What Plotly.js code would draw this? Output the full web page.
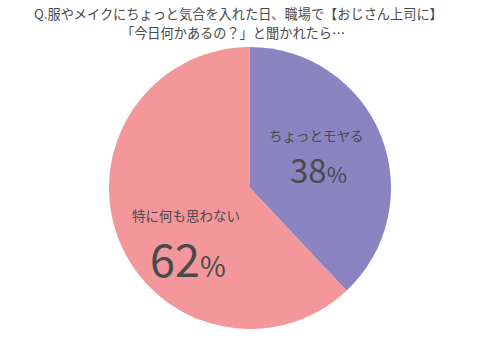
<!DOCTYPE html>
<html>
<head>
<meta charset="utf-8">
<script src="https://cdn.plot.ly/plotly-3.0.1.min.js"></script>
<style>html,body{margin:0;padding:0;background:#fff;}#chart{width:500px;height:355px;}</style>
</head>
<body>
<div id="chart"></div>
<script>
const titleLines = ["Q.服やメイクにちょっと気合を入れた日、職場で【おじさん上司に】", "「今日何かあるの？」と聞かれたら…"];
const labels = ["ちょっとモヤる", "特に何も思わない"];
const values = [38, 62];
const colors = ["#8a84c1", "#f3979b"];

const font = "Noto Sans CJK JP, Noto Sans, sans-serif";
const textColor = "#4a4a4a";

const M = {l: 0, r: 0, t: 47, b: 26};
const plotH = 355 - M.t - M.b;
const py = v => 1 - (v - M.t) / plotH;
const px = v => v / 500;

const labelPos = [
  {x: 316, y: 135, ny: 169, big: 33, small: 22},
  {x: 186, y: 215, ny: 257, big: 45, small: 28}
];
const titlePos = [{x: 238, y: 14}, {x: 233, y: 32}];

const annotations = [];
titleLines.forEach((t, i) => {
  annotations.push({
    text: t, x: px(titlePos[i].x), y: py(titlePos[i].y), xref: "paper", yref: "paper",
    showarrow: false, xanchor: "center", yanchor: "middle", borderpad: 0,
    font: {family: font, size: 13.2, color: textColor}
  });
});
labels.forEach((lab, i) => {
  const p = labelPos[i];
  annotations.push({
    text: lab, x: px(p.x), y: py(p.y), xref: "paper", yref: "paper",
    showarrow: false, xanchor: "center", yanchor: "middle", borderpad: 0,
    font: {family: font, size: 13.5, color: textColor}
  });
  annotations.push({
    text: values[i] + "<span style='font-size:" + p.small + "px'>%</span>",
    x: px(p.x + 2), y: py(p.ny), xref: "paper", yref: "paper",
    showarrow: false, xanchor: "center", yanchor: "middle", borderpad: 0,
    font: {family: font, size: p.big, color: textColor}
  });
});

const data = [{
  type: "pie",
  labels: labels,
  values: values,
  marker: {colors: colors, line: {color: "#ffffff", width: 0}},
  sort: false,
  direction: "clockwise",
  rotation: 0,
  textinfo: "none",
  hoverinfo: "label+percent",
  showlegend: false
}];

const layout = {
  width: 500, height: 355,
  margin: M,
  paper_bgcolor: "#ffffff",
  showlegend: false,
  annotations: annotations
};

Plotly.newPlot("chart", data, layout, {displayModeBar: false, staticPlot: true});
</script>
</body>
</html>
